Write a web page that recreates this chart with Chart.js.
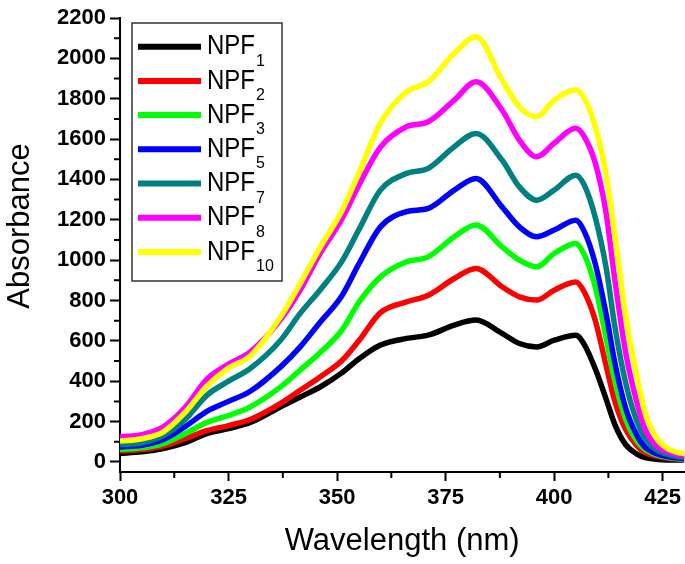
<!DOCTYPE html>
<html>
<head>
<meta charset="utf-8">
<script src="https://cdn.jsdelivr.net/npm/chart.js@4"></script>
<style>
  body { margin: 0; background: #fff; }
</style>
</head>
<body>
<canvas id="grafico" width="685" height="564"></canvas>
<script>
// wavelength (nm)
const wavelength = [300, 305, 310, 315, 320, 325, 330, 337, 341.5, 346, 351, 355, 360, 366, 371, 377, 382, 388, 392, 396, 400, 405, 407, 409.5, 412, 414, 416.5, 419, 421, 423.5, 426, 428, 430];

// absorbance of each sample
const npf1  = [42, 50, 66, 95, 140, 165, 195, 273, 322, 370, 440, 510, 579, 612, 628, 678, 703, 637, 587, 570, 603, 628, 580, 460, 310, 185, 85, 40, 21, 13, 10, 10, 10];
const npf2  = [55, 62, 79, 115, 155, 180, 210, 290, 355, 420, 500, 600, 740, 793, 826, 909, 959, 868, 818, 802, 851, 892, 840, 700, 475, 300, 160, 82, 46, 29, 19, 15, 13];
const npf3  = [62, 70, 91, 140, 195, 230, 273, 372, 455, 540, 650, 790, 917, 992, 1016, 1116, 1174, 1066, 1000, 967, 1033, 1083, 1025, 865, 610, 400, 210, 105, 60, 36, 23, 18, 15];
const npf5  = [74, 82, 111, 175, 250, 300, 350, 471, 570, 690, 820, 980, 1165, 1240, 1256, 1347, 1405, 1264, 1165, 1116, 1149, 1198, 1140, 980, 730, 490, 265, 135, 72, 42, 26, 20, 17];
const npf7  = [85, 95, 130, 210, 330, 400, 463, 603, 736, 850, 990, 1150, 1347, 1430, 1455, 1562, 1628, 1496, 1363, 1297, 1347, 1421, 1370, 1210, 960, 670, 390, 205, 115, 60, 38, 28, 22];
const npf8  = [124, 135, 174, 270, 410, 485, 545, 705, 851, 1030, 1200, 1370, 1560, 1661, 1686, 1793, 1884, 1744, 1595, 1512, 1579, 1653, 1610, 1480, 1230, 900, 540, 300, 160, 80, 50, 38, 30];
const npf10 = [103, 115, 149, 245, 375, 465, 525, 719, 884, 1060, 1240, 1430, 1680, 1834, 1884, 2025, 2107, 1892, 1760, 1711, 1793, 1843, 1800, 1660, 1420, 1120, 720, 430, 240, 120, 68, 50, 42];

const seriesSub = ['1', '2', '3', '5', '7', '8', '10'];
const seriesData = [npf1, npf2, npf3, npf5, npf7, npf8, npf10];
const seriesColors = ['#000000', '#ff0000', '#00ff00', '#0000ff', '#008080', '#ff00ff', '#ffff00'];

const xTicks = [300, 325, 350, 375, 400, 425];
const yTicks = [0, 200, 400, 600, 800, 1000, 1200, 1400, 1600, 1800, 2000, 2200];

const datasets = seriesData.map(function(vals, i) {
    return {
        label: 'NPF' + seriesSub[i],
        data: vals.map(function(v, k) { return { x: wavelength[k], y: v }; }),
        borderColor: seriesColors[i],
        backgroundColor: seriesColors[i],
        borderWidth: 5.5,
        pointRadius: 0,
        cubicInterpolationMode: 'monotone',
        order: seriesData.length - 1 - i
    };
});

// minor ticks, legend and y title
const extras = {
    id: 'extras',
    afterDraw(chart) {
        const c = chart.ctx;
        const xs = chart.scales.x, ys = chart.scales.y;
        const area = chart.chartArea;
        c.save();
        c.strokeStyle = '#000';
        c.lineWidth = 2;
        c.beginPath();
        for (let v = 100; v < 2200; v += 200) {
            const p = ys.getPixelForValue(v);
            c.moveTo(area.left - 6, p);
            c.lineTo(area.left, p);
        }
        for (let v = 312.5; v < 430; v += 25) {
            const p = xs.getPixelForValue(v);
            c.moveTo(p, area.bottom);
            c.lineTo(p, area.bottom + 6);
        }
        c.stroke();

        // y title
        c.fillStyle = '#000';
        c.font = '31px "Liberation Sans", Arial, sans-serif';
        c.textAlign = 'center';
        c.textBaseline = 'middle';
        c.translate(20, 226);
        c.rotate(-Math.PI / 2);
        c.fillText('Absorbance', 0, 0);
        c.restore();

        // legend
        c.save();
        const bx = 132, by = 23, bw = 150, bh = 258;
        c.fillStyle = '#fff';
        c.fillRect(bx, by, bw, bh);
        c.strokeStyle = '#333';
        c.lineWidth = 1.5;
        c.strokeRect(bx, by, bw, bh);
        seriesSub.forEach(function(sub, i) {
            const yy = 46.7 + i * 34.2;
            c.strokeStyle = seriesColors[i];
            c.lineWidth = 6;
            c.beginPath();
            c.moveTo(138, yy);
            c.lineTo(201, yy);
            c.stroke();
            c.fillStyle = '#000';
            c.textAlign = 'left';
            c.textBaseline = 'middle';
            c.font = '28px "Liberation Sans", Arial, sans-serif';
            c.fillText('NPF', 207, yy, 48);
            c.textBaseline = 'alphabetic';
            c.font = '16px "Liberation Sans", Arial, sans-serif';
            c.fillText(sub, 256, yy + 19);
        });
        c.restore();
    }
};

const tickFont = { family: '"Liberation Sans", Arial, sans-serif', size: 22, weight: 'bold' };

new Chart(document.getElementById('grafico').getContext('2d'), {
    type: 'line',
    data: { datasets: datasets },
    options: {
        responsive: false,
        animation: false,
        layout: { padding: { top: 18, right: 0, left: 0, bottom: 0 } },
        plugins: {
            legend: { display: false },
            tooltip: { enabled: false }
        },
        scales: {
            x: {
                type: 'linear',
                min: 300,
                max: 430,
                afterBuildTicks: function(s) { s.ticks = xTicks.map(function(v) { return { value: v }; }); },
                afterFit: function(s) { s.height = 92; },
                grid: { drawOnChartArea: false, drawTicks: true, tickLength: 9, tickWidth: 2, tickColor: '#000' },
                border: { display: true, color: '#000', width: 2 },
                ticks: { color: '#000', font: tickFont, padding: 4, maxRotation: 0,
                         callback: function(v) { return String(v); } },
                title: {
                    display: true,
                    text: 'Wavelength (nm)',
                    color: '#000',
                    font: { family: '"Liberation Sans", Arial, sans-serif', size: 31 },
                    padding: { top: 0, bottom: 4 }
                }
            },
            y: {
                min: -50,
                max: 2200,
                afterBuildTicks: function(s) { s.ticks = yTicks.map(function(v) { return { value: v }; }); },
                afterFit: function(s) { s.width = 120; },
                grid: { drawOnChartArea: false, drawTicks: true, tickLength: 10, tickWidth: 2, tickColor: '#000' },
                border: { display: true, color: '#000', width: 2 },
                ticks: { color: '#000', font: tickFont, padding: 4,
                         callback: function(v) { return String(v); } }
            }
        }
    },
    plugins: [extras]
});
</script>
</body>
</html>
